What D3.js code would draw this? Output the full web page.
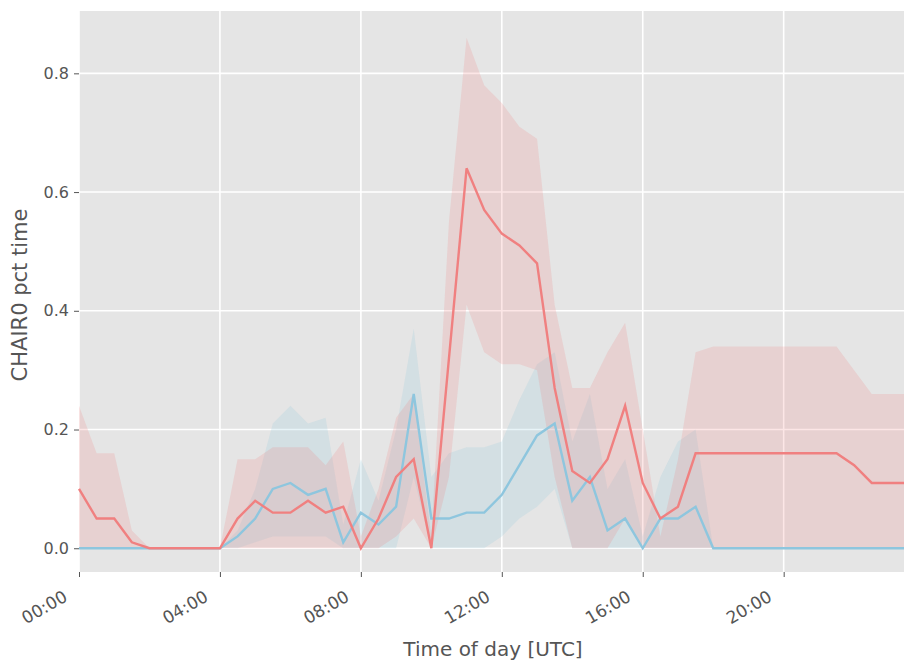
<!DOCTYPE html>
<html>
<head>
<meta charset="utf-8">
<script src="https://cdn.jsdelivr.net/npm/d3@7"></script>
<style>
  body { margin: 0; background: #fff; }
  text { font-family: "DejaVu Sans", sans-serif; }
</style>
</head>
<body>
<div id="myPlot"></div>
<script>
// Set Dimensions
const width = 904;
const height = 664;
const plotLeft = 79, plotTop = 11, plotBottom = 572, plotRight = 907;

// Data: half-hour steps, hours of day
const hours = d3.range(0, 24, 0.5);

const red_mean = [0.10, 0.05, 0.05, 0.01, 0, 0, 0, 0, 0, 0.05, 0.08, 0.06, 0.06, 0.08, 0.06, 0.07,
  0, 0.05, 0.12, 0.15, 0, 0.32, 0.64, 0.57, 0.53, 0.51, 0.48, 0.27, 0.13, 0.11, 0.15, 0.24,
  0.11, 0.05, 0.07, 0.16, 0.16, 0.16, 0.16, 0.16, 0.16, 0.16, 0.16, 0.16, 0.14, 0.11, 0.11, 0.11];
const red_upper = [0.24, 0.16, 0.16, 0.03, 0, 0, 0, 0, 0, 0.15, 0.15, 0.17, 0.17, 0.17, 0.14, 0.18,
  0.02, 0.10, 0.22, 0.26, 0.02, 0.55, 0.86, 0.78, 0.75, 0.71, 0.69, 0.41, 0.27, 0.27, 0.33, 0.38,
  0.20, 0.02, 0.15, 0.33, 0.34, 0.34, 0.34, 0.34, 0.34, 0.34, 0.34, 0.34, 0.30, 0.26, 0.26, 0.26];
const red_lower = [0, 0, 0, 0, 0, 0, 0, 0, 0, 0, 0, 0, 0, 0, 0, 0,
  0, 0, 0.02, 0.05, 0, 0.12, 0.41, 0.33, 0.31, 0.31, 0.30, 0.12, 0, 0, 0, 0.05,
  0, 0, 0, 0, 0, 0, 0, 0, 0, 0, 0, 0, 0, 0, 0, 0];

const blue_mean = [0, 0, 0, 0, 0, 0, 0, 0, 0, 0.02, 0.05, 0.10, 0.11, 0.09, 0.10, 0.01,
  0.06, 0.04, 0.07, 0.26, 0.05, 0.05, 0.06, 0.06, 0.09, 0.14, 0.19, 0.21, 0.08, 0.12, 0.03, 0.05,
  0, 0.05, 0.05, 0.07, 0, 0, 0, 0, 0, 0, 0, 0, 0, 0, 0, 0];
const blue_upper = [0, 0, 0, 0, 0, 0, 0, 0, 0, 0.03, 0.10, 0.21, 0.24, 0.21, 0.22, 0.04,
  0.15, 0.08, 0.20, 0.37, 0.12, 0.16, 0.17, 0.17, 0.18, 0.25, 0.31, 0.33, 0.18, 0.26, 0.10, 0.15,
  0.02, 0.12, 0.18, 0.20, 0, 0, 0, 0, 0, 0, 0, 0, 0, 0, 0, 0];
const blue_lower = [0, 0, 0, 0, 0, 0, 0, 0, 0, 0, 0.01, 0.02, 0.02, 0.02, 0.02, 0,
  0, 0, 0, 0.12, 0, 0, 0, 0, 0.02, 0.05, 0.07, 0.10, 0, 0, 0, 0,
  0, 0, 0, 0, 0, 0, 0, 0, 0, 0, 0, 0, 0, 0, 0, 0];

const x_ticks = [0, 4, 8, 12, 16, 20];
const y_ticks = [0, 0.2, 0.4, 0.6, 0.8];

const redColor = "#f08080";
const blueColor = "#8ec6de";

// Append SVG Object to the Page
const svg = d3.select("#myPlot")
  .append("svg")
  .attr("width", width)
  .attr("height", height);

const x = d3.scaleLinear().domain([0, 23.5]).range([plotLeft, plotRight]);
const y = d3.scaleLinear().domain([-0.04, 0.905]).range([plotBottom, plotTop]);

// background
svg.append("rect")
  .attr("x", plotLeft).attr("y", plotTop)
  .attr("width", plotRight - plotLeft).attr("height", plotBottom - plotTop)
  .attr("fill", "#e5e5e5");

// grid
svg.append("g").selectAll("line")
  .data(x_ticks).enter().append("line")
  .attr("x1", d => x(d)).attr("x2", d => x(d))
  .attr("y1", plotTop).attr("y2", plotBottom)
  .attr("stroke", "#fff").attr("stroke-width", 1.6);

svg.append("g").selectAll("line")
  .data(y_ticks).enter().append("line")
  .attr("x1", plotLeft).attr("x2", plotRight)
  .attr("y1", d => y(d)).attr("y2", d => y(d))
  .attr("stroke", "#fff").attr("stroke-width", 1.6);

const redRows = hours.map((h, i) => ({h, m: red_mean[i], lo: red_lower[i], hi: red_upper[i]}));
const blueRows = hours.map((h, i) => ({h, m: blue_mean[i], lo: blue_lower[i], hi: blue_upper[i]}));

const area = d3.area().x(d => x(d.h)).y0(d => y(d.lo)).y1(d => y(d.hi));
const line = d3.line().x(d => x(d.h)).y(d => y(d.m));

svg.append("path").datum(blueRows)
  .attr("d", area).attr("fill", blueColor).attr("fill-opacity", 0.2);
svg.append("path").datum(redRows)
  .attr("d", area).attr("fill", redColor).attr("fill-opacity", 0.2);

svg.append("path").datum(blueRows)
  .attr("d", line).attr("fill", "none").attr("stroke", blueColor).attr("stroke-width", 2.4);
svg.append("path").datum(redRows)
  .attr("d", line).attr("fill", "none").attr("stroke", redColor).attr("stroke-width", 2.4);

// X Axis
const xAxis = svg.append("g")
  .attr("transform", `translate(0, ${plotBottom})`)
  .call(d3.axisBottom(x).tickValues(x_ticks).tickSize(5).tickPadding(4)
    .tickFormat(d => String(d).padStart(2, "0") + ":00"));
xAxis.select(".domain").remove();
xAxis.selectAll("line").attr("stroke", "#555");
xAxis.selectAll("text")
  .attr("fill", "#555")
  .style("font-size", "17px")
  .attr("text-anchor", "end")
  .attr("x", 0).attr("y", 0).attr("dy", 0)
  .attr("transform", "translate(-11, 28) rotate(-30)");

// Y Axis
const yAxis = svg.append("g")
  .attr("transform", `translate(${plotLeft}, 0)`)
  .call(d3.axisLeft(y).tickValues(y_ticks).tickSize(5).tickPadding(5).tickFormat(d3.format(".1f")));
yAxis.select(".domain").remove();
yAxis.selectAll("line").attr("stroke", "#555");
yAxis.selectAll("text").attr("fill", "#555").style("font-size", "16px");

svg.append("text") // x-axis label
  .attr("x", 493)
  .attr("y", 656)
  .attr("fill", "#555")
  .style("font-size", "20px")
  .style("text-anchor", "middle")
  .text("Time of day [UTC]");

svg.append("text") // y-axis label
  .attr("transform", "rotate(-90)")
  .attr("x", -295)
  .attr("y", 27)
  .attr("fill", "#555")
  .style("font-size", "21px")
  .style("text-anchor", "middle")
  .text("CHAIR0 pct time");
</script>
</body>
</html>
